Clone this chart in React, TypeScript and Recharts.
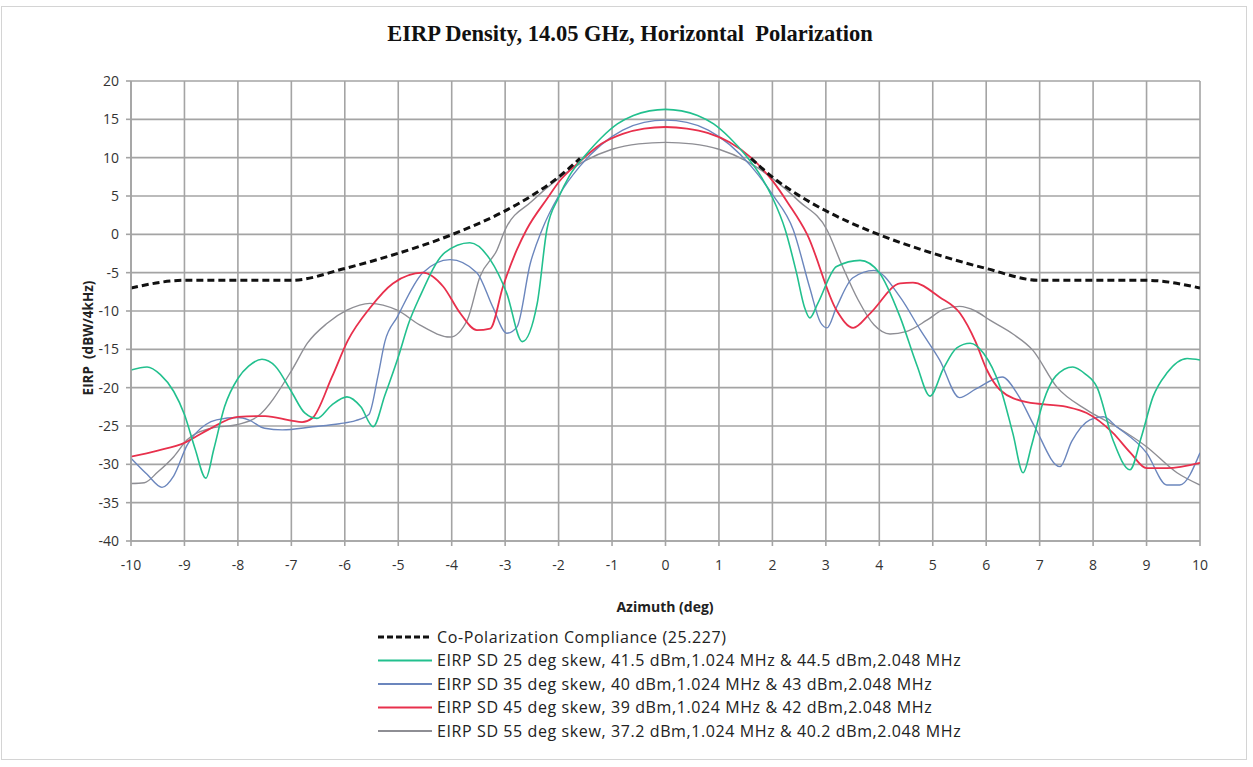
import { LineChart, Line, XAxis, YAxis, CartesianGrid } from "recharts";

// azimuth (deg) / EIRP (dBW/4kHz)
// the compliance mask is only drawn outside the main lobe, hence the null at 0
const compAz = [-10, -9, -7, -6, -5, -4, -3, -2.5, -2, -1.6, 0, 1.6, 2, 2.5, 3, 4, 5, 6, 7, 9, 10];
const compEirp = [-7, -6, -6, -4.45, -2.47, -0.05, 3.07, 5.05, 7.47, 9.9, null, 9.9, 7.47, 5.05, 3.07, -0.05, -2.47, -4.45, -6, -6, -7];

const sd25Az = [
  -10, -9.7, -9.45, -9.2, -9, -8.8, -8.6, -8.45, -8.25, -8, -7.8, -7.55, -7.3, -7, -6.75, -6.52, -6.25, -5.96, -5.7,
  -5.47, -5.25, -5, -4.8, -4.6, -4.13, -3.66, -3.28, -2.97, -2.68, -2.4, -2.22, -2, -1.8, -1.5, -1.2, -0.9, -0.6, -0.3,
  0, 0.3, 0.6, 0.9, 1.2, 1.5, 1.8, 2, 2.24, 2.45, 2.6, 2.7, 2.85, 3.2, 3.64, 4, 4.39, 4.7, 4.95, 5.2, 5.45, 5.7, 5.95,
  6.26, 6.5, 6.69, 6.85, 7.06, 7.3, 7.62, 7.85, 8.07, 8.37, 8.69, 8.9, 9.12, 9.38, 9.76, 10,
];
const sd25Eirp = [
  -17.7, -17.3, -18.3, -20.5, -23.5, -28, -31.8, -28, -22.5, -18.8, -17.2, -16.3, -17.2, -20.5, -23.3, -24, -22.3, -21.2, -22.5,
  -25.1, -21, -16, -11.5, -8.2, -2.4, -1.1, -3.3, -7.7, -14, -9, 0.6, 4.8, 7.6, 10.3, 12.6, 14.4, 15.5, 16.1,
  16.3, 16.1, 15.5, 14.4, 12.6, 10.3, 7.4, 4.8, 0.6, -5, -9.5, -10.9, -9, -4.2, -3.4, -5, -10.8, -17, -21.1, -17.5, -14.8, -14.2, -15.5,
  -19.9, -26, -31.1, -27.5, -22, -18.5, -17.3, -18.2, -19.9, -26.8, -30.7, -26.5, -21.2, -18.1, -16.2, -16.4,
];

const sd35Az = [
  -10, -9.7, -9.42, -9.2, -8.95, -8.6, -8.4, -8, -7.8, -7.5, -7.17, -6.6, -6.1, -5.8, -5.55, -5.38, -5.25, -5.02, -4.54,
  -4.03, -3.53, -3.23, -2.97, -2.78, -2.53, -2.31, -2, -1.6, -1.2, -0.8, -0.4, 0, 0.4, 0.8, 1.2, 1.6, 2, 2.39, 2.7,
  2.9, 3.02, 3.2, 3.5, 3.9, 4.39, 4.77, 5.13, 5.5, 5.8, 6.3, 6.6, 6.9, 7.38, 7.6, 7.94, 8.19, 8.44, 9, 9.38, 9.62, 10,
];
const sd35Eirp = [
  -29.2, -31.3, -33, -31.5, -27.5, -24.8, -24.2, -23.9, -24.2, -25.3, -25.5, -25.1, -24.7, -24.3, -23.5, -18.5, -14, -10.8, -5,
  -3.3, -5, -9.5, -12.9, -12.1, -3.8, 0.6, 5, 8.9, 11.7, 13.6, 14.6, 14.9, 14.6, 13.6, 11.7, 8.9, 5.2, 0.6, -7,
  -11.5, -12.2, -9.5, -5.7, -4.7, -8.2, -12.5, -16.4, -21.3, -20.2, -18.6, -21, -25, -30.3, -27, -24.2, -23.8, -25.1, -28.5, -32.7, -32.7, -28.5,
];

const sd45Az = [
  -10, -9.5, -9, -8.56, -8, -7.49, -7, -6.8, -6.61, -6.24, -5.94, -5.53, -5.1, -4.54, -4.16, -3.84, -3.53, -3.28, -3.04,
  -2.78, -2.6, -2.2, -2, -1.6, -1.2, -0.8, -0.4, 0, 0.4, 0.8, 1.2, 1.6, 2, 2.3, 2.65, 3.2, 3.51, 3.83, 4.39, 4.63,
  5.13, 5.51, 5.8, 6, 6.26, 6.76, 7.51, 7.88, 8.37, 8.7, 9, 9.38, 10,
];
const sd45Eirp = [
  -29, -28.2, -27.2, -25.5, -23.8, -23.7, -24.3, -24.5, -24, -18.6, -13.8, -9.6, -6.4, -5, -6.8, -10.3, -12.5, -12.3, -6.8,
  -2, 0.6, 4.8, 6.8, 9.5, 11.8, 13.1, 13.8, 14, 13.8, 13.2, 12, 10, 7, 4, 0, -9.9, -12.2, -10.3, -6.4, -6.3,
  -8.2, -10.3, -14, -17.5, -20.3, -21.9, -22.5, -23.3, -25.9, -28.5, -30.5, -30.5, -29.8,
];

const sd55Az = [
  -10, -9.75, -9.5, -9.2, -8.95, -8.5, -8, -7.64, -6.99, -6.7, -6.33, -5.96, -5.53, -5.02, -4.6, -4.03, -3.71, -3.47, -3.15,
  -3, -2.5, -2, -1.5, -1, -0.5, 0, 0.5, 1, 1.5, 2, 2.5, 3.02, 3.3, 3.6, 3.9, 4.2, 4.5, 4.89, 5.2, 5.5, 5.8, 6.07,
  6.5, 6.87, 7.32, 7.88, 8.44, 9, 9.57, 10,
];
const sd55Eirp = [
  -32.5, -32.4, -31, -29, -26.8, -25.3, -24.8, -23.8, -17.7, -14.2, -11.6, -9.9, -9, -9.9, -11.8, -13.4, -11.2, -5.5, -2,
  0.6, 4.3, 7.3, 9.6, 11.1, 11.8, 12, 11.8, 11.1, 9.6, 7.3, 4.3, 0.6, -4, -8.5, -11.8, -13, -12.7, -11.2, -9.8, -9.4, -10, -11.2,
  -13, -15.1, -19.9, -22.9, -25.1, -27.7, -31.1, -32.7,
];

const xTicks = [-10, -9, -8, -7, -6, -5, -4, -3, -2, -1, 0, 1, 2, 3, 4, 5, 6, 7, 8, 9, 10];
const yTicks = [-40, -35, -30, -25, -20, -15, -10, -5, 0, 5, 10, 15, 20];

type Series = { key: string; name: string; az: number[]; eirp: (number | null)[]; color: string; width: number; dash?: string };

const series: Series[] = [
  { key: "comp", name: "Co-Polarization Compliance (25.227)", az: compAz, eirp: compEirp, color: "#111111", width: 3, dash: "7 4" },
  { key: "sd25", name: "EIRP SD 25 deg skew, 41.5 dBm,1.024 MHz & 44.5 dBm,2.048 MHz", az: sd25Az, eirp: sd25Eirp, color: "#22c08e", width: 1.6 },
  { key: "sd35", name: "EIRP SD 35 deg skew, 40 dBm,1.024 MHz & 43 dBm,2.048 MHz", az: sd35Az, eirp: sd35Eirp, color: "#6b86bd", width: 1.4 },
  { key: "sd45", name: "EIRP SD 45 deg skew, 39 dBm,1.024 MHz & 42 dBm,2.048 MHz", az: sd45Az, eirp: sd45Eirp, color: "#e8304c", width: 1.8 },
  { key: "sd55", name: "EIRP SD 55 deg skew, 37.2 dBm,1.024 MHz & 40.2 dBm,2.048 MHz", az: sd55Az, eirp: sd55Eirp, color: "#8e8e94", width: 1.4 },
];

const toPoints = (az: number[], eirp: (number | null)[]) => az.map((x, i) => ({ x, y: eirp[i] }));

const tickFont = { fill: "#333", fontSize: 14, fontFamily: "Open Sans, sans-serif" };
const gridColor = "#a4a4a4";

export default function App() {
  // draw order: grey first, dashed compliance on top
  const drawOrder = ["sd55", "sd35", "sd45", "sd25", "comp"];
  return (
    <div style={{ position: "relative", width: 1253, height: 767, background: "#fff", fontFamily: "Open Sans, sans-serif" }}>
      <style>{`body{margin:0}`}</style>
      <div style={{ position: "absolute", left: 1, top: 6, width: 1244, height: 752, border: "1px solid #d4d4d4" }} />
      <div
        style={{
          position: "absolute", left: 0, top: 21, width: 1260, textAlign: "center",
          fontFamily: "Liberation Serif, serif", fontWeight: "bold", fontSize: 22.5, color: "#111",
        }}
      >
        EIRP Density, 14.05 GHz, Horizontal&nbsp; Polarization
      </div>
      <div style={{ position: "absolute", left: 0, top: 0 }}>
        <LineChart width={1253} height={767} margin={{ top: 81, right: 53, left: 73, bottom: 196 }}>
          <CartesianGrid stroke={gridColor} strokeWidth={1.6} />
          <XAxis
            dataKey="x" type="number" domain={[-10, 10]} ticks={xTicks} allowDataOverflow
            height={30} stroke={gridColor} strokeWidth={1.6} tickSize={5}
            tick={tickFont} tickMargin={14}
          />
          <YAxis
            type="number" domain={[-40, 20]} ticks={yTicks} allowDataOverflow
            width={58} stroke={gridColor} strokeWidth={1.6} tickSize={5}
            tick={tickFont} tickMargin={7}
          />
          {drawOrder.map((k) => {
            const s = series.find((d) => d.key === k)!;
            return (
              <Line
                key={s.key}
                data={toPoints(s.az, s.eirp)}
                dataKey="y"
                type="monotone"
                stroke={s.color}
                strokeWidth={s.width}
                strokeDasharray={s.dash}
                connectNulls={false}
                dot={false}
                activeDot={false}
                isAnimationActive={false}
              />
            );
          })}
        </LineChart>
      </div>
      <div
        style={{
          position: "absolute", left: 665, top: 597, transform: "translateX(-50%)",
          fontWeight: "bold", fontSize: 14, color: "#222", whiteSpace: "nowrap",
        }}
      >
        Azimuth (deg)
      </div>
      <div
        style={{
          position: "absolute", left: 88, top: 338, transform: "translate(-50%, -50%) rotate(-90deg)",
          fontWeight: "bold", fontSize: 13.5, color: "#222", whiteSpace: "pre",
        }}
      >
        EIRP  (dBW/4kHz)
      </div>
      <svg style={{ position: "absolute", left: 0, top: 0 }} width={1253} height={767}>
        {series.map((s, i) => {
          const y = 637 + i * 23.5;
          return (
            <g key={s.key}>
              <line x1={378} x2={432} y1={y} y2={y} stroke={s.color} strokeWidth={s.key === "comp" ? 3 : 1.8} strokeDasharray={s.dash ? "6 3" : undefined} />
              <text x={437} y={y + 5.5} fontSize={16} letterSpacing={0.6} fill="#222" fontFamily="Open Sans, sans-serif">
                {s.name}
              </text>
            </g>
          );
        })}
      </svg>
    </div>
  );
}
